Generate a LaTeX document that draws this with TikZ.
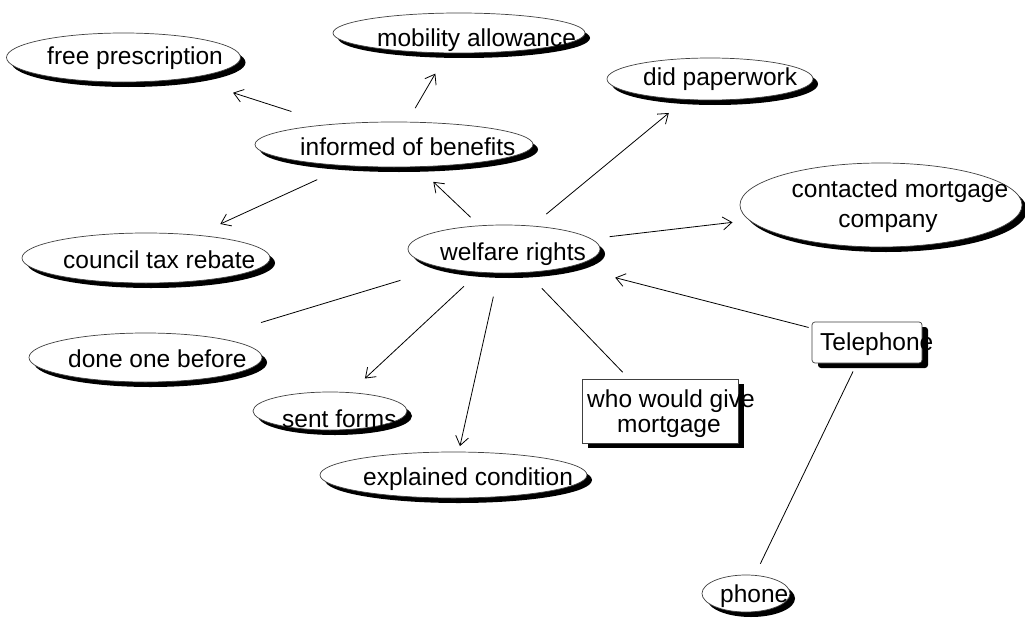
\documentclass[tikz,border=0pt]{standalone}
\usepackage{fontspec}
\setmainfont{Liberation Sans}
\usetikzlibrary{shapes.geometric,shadows,arrows.meta}
\tikzset{
  bub/.style={ellipse, draw=black!75, line width=0.7pt, fill=white, inner sep=0pt,
    drop shadow={shadow xshift=5pt, shadow yshift=-5pt, opacity=1, fill=black}},
  boxn/.style={rectangle, draw=black!75, line width=0.7pt, fill=white, inner sep=0pt,
    drop shadow={shadow xshift=6pt, shadow yshift=-5pt, opacity=1, fill=black}},
  rboxn/.style={boxn, rounded corners=3pt},
  lbl/.style={inner sep=0pt, anchor=base west, font=\fontsize{24.5}{29}\selectfont},
  lblc/.style={lbl, anchor=base},
  link/.style={line width=0.8pt, black},
  arr/.style={link, -{Straight Barb[length=9pt,width=13pt,line width=0.8pt]}}
}
\begin{document}
\begin{tikzpicture}[x=1pt,y=-1pt]
\useasboundingbox (0,0) rectangle (1025,626);
\fill[white] (0,0) rectangle (1025,626);
% shapes
\node[bub, minimum width=234, minimum height=49] (fp)  at (123.5,57.5) {};
\node[bub, minimum width=252, minimum height=40] (ma)  at (459,33) {};
\node[bub, minimum width=278, minimum height=45] (inf) at (394,144.5) {};
\node[bub, minimum width=192, minimum height=48] (wr)  at (504,249) {};
\node[bub, minimum width=282, minimum height=84] (cmc) at (881,205) {};
\node[bub, minimum width=206, minimum height=42] (dp)  at (710,79) {};
\node[bub, minimum width=248, minimum height=50] (ctr) at (146,258) {};
\node[bub, minimum width=233, minimum height=49] (dob) at (145.5,357.5) {};
\node[bub, minimum width=154, minimum height=38] (sf)  at (330,411) {};
\node[bub, minimum width=267, minimum height=46] (ec)  at (453.5,475) {};
\node[bub, minimum width=88, minimum height=37]  (ph)  at (746,593.5) {};
\node[boxn, minimum width=156, minimum height=64] (who) at (660,411) {};
\node[rboxn, minimum width=110, minimum height=41] (tel) at (867,342.5) {};
% labels
\node[lbl] (tfp)  at (47,65)   {free prescription};
\node[lbl] (tma)  at (377,47)  {mobility allowance};
\node[lbl] (tinf) at (300,155) {informed of benefits};
\node[lbl] (twr)  at (440,260) {welfare rights};
\node[lblc] (tcmc1) at (900,197) {contacted mortgage};
\node[lblc] (tcmc2) at (888,227) {company};
\node[lbl] (tdp)  at (643,85)  {did paperwork};
\node[lbl] (tctr) at (63,268)  {council tax rebate};
\node[lbl] (tdob) at (68,367)  {done one before};
\node[lbl] (tsf)  at (282,427) {sent forms};
\node[lbl] (tec)  at (363,485) {explained condition};
\node[lbl] (tph)  at (720,602) {phone};
\node[lbl] (twho1) at (587,407) {who would give};
\node[lbl] (twho2) at (617,432) {mortgage};
\node[lbl] (ttel) at (820,350) {Telephone};
% connectors
\draw[arr, shorten <=107.8pt, shorten >=115.1pt] (inf.center) -- (fp.center);
\draw[arr, shorten <=42.1pt,  shorten >=47pt]    (inf.center) -- (ma.center);
\draw[arr, shorten <=84.4pt,  shorten >=81.7pt]  (inf.center) -- (ctr.center);
\draw[arr, shorten <=46pt,    shorten >=54.2pt]  (wr.center) -- (inf.center);
\draw[arr, shorten <=54.8pt,  shorten >=53.4pt]  (wr.center) -- (dp.center);
\draw[arr, shorten <=106.4pt, shorten >=149.5pt] (wr.center) -- (cmc.center);
\draw[arr, shorten <=60.3pt,  shorten >=114.8pt] (tel.center) -- (wr.center);
\draw[link, shorten <=108.2pt, shorten >=120.7pt] (wr.center) -- (dob.center);
\draw[arr, shorten <=54.8pt,  shorten >=47.7pt]  (wr.center) -- (sf.center);
\draw[arr, shorten <=48.8pt,  shorten >=29.6pt]  (wr.center) -- (ec.center);
\draw[link, shorten <=54.6pt, shorten >=53.8pt]  (wr.center) -- (who.center);
\draw[link, shorten <=32.1pt, shorten >=33pt]    (tel.center) -- (ph.center);
\end{tikzpicture}
\end{document}
